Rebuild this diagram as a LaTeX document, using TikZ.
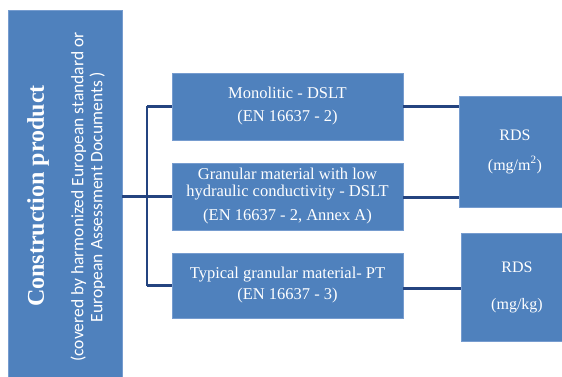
\documentclass[tikz,border=0pt]{standalone}
\usepackage{fontspec}
\setmainfont{Liberation Serif}
\newfontfamily\calib{Carlito}
\definecolor{boxblue}{RGB}{79,129,189}
\definecolor{boxedge}{RGB}{118,156,207}
\definecolor{linkblue}{RGB}{36,68,128}
\tikzset{
  bluebox/.style={rectangle, fill=boxblue, draw=boxedge, line width=0.6pt, text=white, align=center, inner sep=0pt},
  link/.style={draw=linkblue, line width=2.8pt},
  mainfont/.style={font=\fontsize{16.5}{23}\selectfont},
}
\begin{document}
\begin{tikzpicture}[x=1pt,y=-1pt]
\clip (0,0) rectangle (562,377);
\fill[white] (0,0) rectangle (562,377);
% left box
\node[bluebox, minimum width=114pt, minimum height=372pt] (lbox) at (65,196) {};
\node[rotate=90, text=white, font=\fontsize{24}{27}\selectfont\bfseries] (title) at (38,196) {Construction product};
\node[rotate=90, text=white, align=center, font=\calib\fontsize{17.5}{19}\selectfont] (sub) at (88,197) {(covered by harmonized European standard or\\European Assessment Documents )};
% middle boxes
\node[bluebox, mainfont, minimum width=231pt, minimum height=67pt] (m1) at (287.5,106.5) {Monolitic - DSLT\\(EN 16637 - 2)};
\node[bluebox, font=\fontsize{16.5}{17}\selectfont, minimum width=231pt, minimum height=67pt] (m2) at (287.5,196.5) {Granular material with low\\hydraulic conductivity - DSLT\\[7pt](EN 16637 - 2, Annex A)};
\node[bluebox, font=\fontsize{16.5}{21}\selectfont, minimum width=231pt, minimum height=65pt] (m3) at (287.5,285.5) {Typical granular material- PT\\(EN 16637 - 3)};
% right boxes
\node[bluebox, font=\fontsize{16}{30}\selectfont, minimum width=112pt, minimum height=111pt] (r1) at (515,151.5) {RDS\\(mg/m\textsuperscript{2})};
\node[bluebox, font=\fontsize{16}{37}\selectfont, minimum width=112pt, minimum height=108pt] (r2) at (517,287) {RDS\\(mg/kg)};
% bracket
\coordinate (br) at (147,196);
\draw[link] (lbox.east |- m2.west) -- (br |- m2.west);
\draw[link] (br |- m1.west) -- (br |- m3.west);
\draw[link] (br |- m1.west) -- (m1.west);
\draw[link] (br |- m2.west) -- (m2.west);
\draw[link] (br |- m3.west) -- (m3.west);
% right links
\draw[link] (m1.east) -- (m1.east -| r1.west);
\draw[link] ([yshift=-1pt]m2.east) -- ([yshift=-1pt]m2.east -| r1.west);
\draw[link] ([yshift=-3pt]m3.east) -- ([yshift=-3pt]m3.east -| r2.west);
\end{tikzpicture}
\end{document}
